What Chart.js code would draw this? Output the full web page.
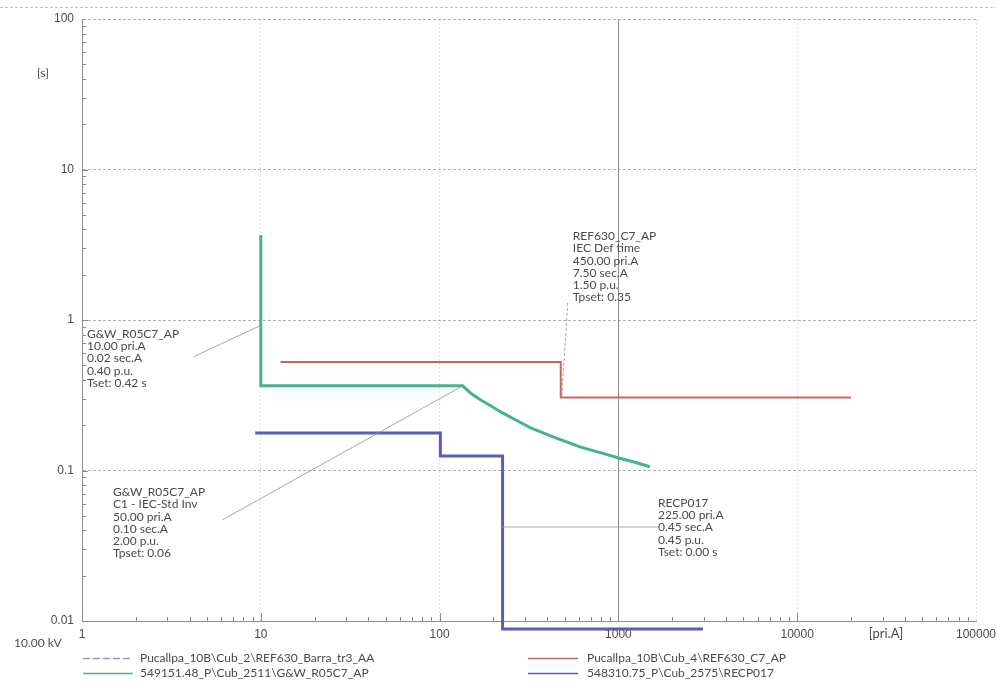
<!DOCTYPE html>
<html>
<head>
<meta charset="utf-8">
<script src="https://cdn.jsdelivr.net/npm/chart.js@4.4.1/dist/chart.umd.min.js"></script>
<style>
  html, body { margin: 0; padding: 0; background: #fff; }
  #wrap { width: 996px; height: 696px; }
</style>
</head>
<body>
<div id="wrap"><canvas id="tcc" width="996" height="696"></canvas></div>
<script>
// series names (legend order)
const seriesNames = [
    "Pucallpa_10B\\Cub_2\\REF630_Barra_tr3_AA",
    "Pucallpa_10B\\Cub_4\\REF630_C7_AP",
    "549151.48_P\\Cub_2511\\G&W_R05C7_AP",
    "548310.75_P\\Cub_2575\\RECP017"
];

// curves: current [pri.A] / time [s]
const barraX = [];
const barraY = [];
const c7X = [12.9, 476, 476, 20000];
const c7Y = [0.525, 0.525, 0.305, 0.305];
const gwX = [10, 10, 134.5, 150, 170, 195, 220, 270, 323, 450, 616, 800, 1006, 1250, 1500];
const gwY = [3.67, 0.365, 0.365, 0.325, 0.294, 0.267, 0.245, 0.215, 0.192, 0.164, 0.143, 0.131, 0.121, 0.113, 0.106];
const recX = [9.3, 101, 101, 225, 225, 2970];
const recY = [0.1775, 0.1775, 0.125, 0.125, 0.00885, 0.00885];

// axis ticks
const xTicks = [1, 10, 100, 1000, 10000, 100000];
const yTicks = [0.01, 0.1, 1, 10, 100];
const refCurrent = 1000;

// relay setting notes
const noteLines = [
    ["G&W_R05C7_AP", "10.00 pri.A", "0.02 sec.A", "0.40 p.u.", "Tset: 0.42 s"],
    ["G&W_R05C7_AP", "C1 - IEC-Std Inv", "50.00 pri.A", "0.10 sec.A", "2.00 p.u.", "Tpset: 0.06"],
    ["REF630_C7_AP", "IEC Def time", "450.00 pri.A", "7.50 sec.A", "1.50 p.u.", "Tpset: 0.35"],
    ["RECP017", "225.00 pri.A", "0.45 sec.A", "0.45 p.u.", "Tset: 0.00 s"]
];
const noteX = [1.067, 1.49, 556, 1664];
const noteY = [0.807, 0.0719, 3.61, 0.0608];
const leaderFrom = [[4.19, 0.568], [6.09, 0.0469], [521, 1.297], [220, 0.0421]];
const leaderTo = [[10.1, 0.927], [134.5, 0.365], [482, 0.308], [1664, 0.0421]];

const colors = ["#9d8fd8", "#c06a62", "#45b48d", "#5a5fb5"];
const FONT = "Lato, 'Liberation Sans', sans-serif";
const TEXT = "#4a4a4a";

function pts(xs, ys) {
    return xs.map((x, i) => ({ x: x, y: ys[i] }));
}

function isDecade(v) {
    const l = Math.log10(v);
    return Math.abs(l - Math.round(l)) < 1e-9;
}

const overlay = {
    id: "overlay",
    beforeDatasetsDraw(chart) {
        const ctx = chart.ctx;
        const a = chart.chartArea;
        const xs = chart.scales.x, ys = chart.scales.y;
        ctx.save();
        // frame line on top
        ctx.strokeStyle = "#bdbdbd";
        ctx.lineWidth = 1;
        ctx.setLineDash([3, 2]);
        ctx.beginPath();
        ctx.moveTo(0, 7.5);
        ctx.lineTo(996, 7.5);
        ctx.stroke();
        ctx.setLineDash([]);
        // reference current line
        const rx = Math.round(xs.getPixelForValue(refCurrent)) + 0.5;
        ctx.strokeStyle = "#8c8c8c";
        ctx.beginPath();
        ctx.moveTo(rx, a.top);
        ctx.lineTo(rx, a.bottom);
        ctx.stroke();
        // minor ticks inside axes
        ctx.strokeStyle = "#8a8a8a";
        for (let d = 0; d < 5; d++) {
            for (let m = 1; m <= 9; m++) {
                const v = Math.pow(10, d) * m;
                const px = Math.round(xs.getPixelForValue(v)) + 0.5;
                const len = m === 1 ? 8 : 4;
                ctx.beginPath();
                ctx.moveTo(px, a.bottom);
                ctx.lineTo(px, a.bottom - len);
                ctx.stroke();
            }
        }
        for (let d = -2; d < 2; d++) {
            for (let m = 1; m <= 9; m++) {
                const v = Math.pow(10, d) * m;
                const py = Math.round(ys.getPixelForValue(v)) + 0.5;
                const len = m === 1 ? 6 : 4;
                ctx.beginPath();
                ctx.moveTo(a.left, py);
                ctx.lineTo(a.left + len, py);
                ctx.stroke();
            }
        }
        ctx.restore();
    },
    afterDatasetsDraw(chart) {
        const ctx = chart.ctx;
        const xs = chart.scales.x, ys = chart.scales.y;
        ctx.save();
        // leader lines
        ctx.strokeStyle = "#8f8f8f";
        ctx.lineWidth = 0.8;
        leaderFrom.forEach((p, i) => {
            ctx.setLineDash(i === 2 ? [3, 2] : []);
            ctx.beginPath();
            ctx.moveTo(xs.getPixelForValue(p[0]), ys.getPixelForValue(p[1]));
            ctx.lineTo(xs.getPixelForValue(leaderTo[i][0]), ys.getPixelForValue(leaderTo[i][1]));
            ctx.stroke();
        });
        ctx.setLineDash([]);
        // note texts
        ctx.fillStyle = TEXT;
        ctx.font = "12px " + FONT;
        ctx.textAlign = "left";
        ctx.textBaseline = "middle";
        noteLines.forEach((lines, i) => {
            const x0 = xs.getPixelForValue(noteX[i]);
            const y0 = ys.getPixelForValue(noteY[i]);
            lines.forEach((t, k) => ctx.fillText(t, x0, y0 + k * 12.3));
        });
        // axis titles
        ctx.font = "12px " + FONT;
        ctx.fillText("[s]", 37, 73);
        ctx.fillText("10.00 kV", 14, 643);
        ctx.textAlign = "center";
        ctx.font = "13px " + FONT;
        ctx.fillText("[pri.A]", 886, 634);
        // legend
        ctx.textAlign = "left";
        ctx.font = "12px " + FONT;
        const colX = [83, 528];
        const rowY = [658, 673];
        seriesNames.forEach((name, i) => {
            const cx = colX[i % 2], cy = rowY[Math.floor(i / 2)];
            ctx.strokeStyle = colors[i];
            ctx.lineWidth = 1.5;
            ctx.setLineDash(i === 0 ? [7, 3] : []);
            ctx.beginPath();
            ctx.moveTo(cx, cy + 0.5);
            ctx.lineTo(cx + 50, cy + 0.5);
            ctx.stroke();
            ctx.setLineDash([]);
            ctx.fillStyle = TEXT;
            ctx.fillText(name, cx + (i % 2 ? 59 : 57), cy);
        });
        ctx.restore();
    }
};

new Chart(document.getElementById("tcc"), {
    type: "line",
    data: {
        datasets: [
            { label: seriesNames[0], data: pts(barraX, barraY), borderColor: colors[0], borderWidth: 2, borderDash: [7, 3] },
            { label: seriesNames[1], data: pts(c7X, c7Y), borderColor: colors[1], borderWidth: 2 },
            { label: seriesNames[2], data: pts(gwX, gwY), borderColor: colors[2], borderWidth: 3 },
            { label: seriesNames[3], data: pts(recX, recY), borderColor: colors[3], borderWidth: 3 }
        ]
    },
    options: {
        responsive: false,
        animation: false,
        layout: { padding: { top: 19, right: 20, left: 0, bottom: 0 } },
        elements: { point: { radius: 0 }, line: { tension: 0, fill: false } },
        datasets: { line: { clip: false } },
        plugins: { legend: { display: false }, tooltip: { enabled: false } },
        scales: {
            x: {
                type: "logarithmic",
                min: 1,
                max: 100000,
                afterBuildTicks(s) { s.ticks = xTicks.map(v => ({ value: v })); },
                afterFit(s) { s.height = 75; s.paddingLeft = 0; s.paddingRight = 0; },
                ticks: {
                    color: TEXT,
                    font: { family: "'Liberation Sans', sans-serif", size: 12 },
                    padding: 6,
                    maxRotation: 0,
                    autoSkip: false,
                    callback: v => String(v)
                },
                grid: { drawTicks: false, color: "#e2e2e2", lineWidth: 1 },
                border: { color: "#8f8f8f", width: 1, dash: [2, 2] }
            },
            y: {
                type: "logarithmic",
                min: 0.01,
                max: 100,
                afterBuildTicks(s) { s.ticks = yTicks.map(v => ({ value: v })); },
                afterFit(s) { s.width = 82; s.paddingTop = 0; s.paddingBottom = 0; },
                ticks: {
                    color: TEXT,
                    font: { family: "'Liberation Sans', sans-serif", size: 12 },
                    padding: 8,
                    autoSkip: false,
                    callback: v => String(v)
                },
                grid: {
                    drawTicks: false,
                    color: ctx => (ctx.tick && isDecade(ctx.tick.value) && ctx.tick.value > 0.01 ? "#b0b0b0" : "rgba(0,0,0,0)"),
                    lineWidth: 1
                },
                border: { color: "#8f8f8f", width: 1, dash: [3, 2] }
            }
        }
    },
    plugins: [overlay]
});
</script>
</body>
</html>
